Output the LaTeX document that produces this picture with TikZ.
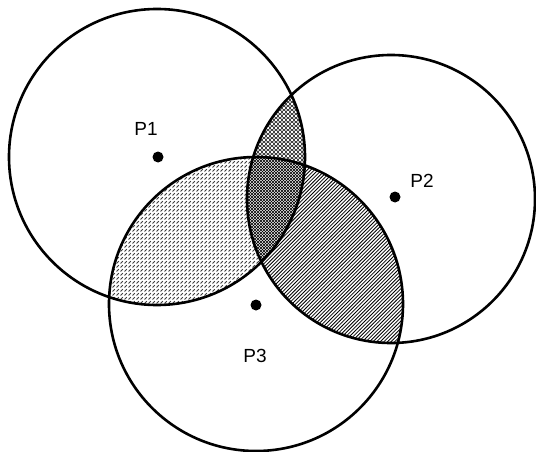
\documentclass[tikz,border=0pt]{standalone}
\usepackage{fontspec}
\setmainfont{Liberation Sans}
\usetikzlibrary{patterns}

\pgfdeclarepatternformonly{rings}{\pgfpoint{-1pt}{-1pt}}{\pgfpoint{5pt}{5pt}}{\pgfpoint{4pt}{4pt}}
{\pgfsetlinewidth{0.6pt}\pgfpathcircle{\pgfpoint{2pt}{2pt}}{1.7pt}\pgfusepathqstroke}
\pgfdeclarepatternformonly{dashlines}{\pgfpoint{-1pt}{-1pt}}{\pgfpoint{5pt}{5pt}}{\pgfpoint{4pt}{4pt}}
{\pgfsetlinewidth{0.8pt}\pgfpathmoveto{\pgfpoint{0.5pt}{0.5pt}}\pgfpathlineto{\pgfpoint{2.8pt}{2.8pt}}\pgfusepathqstroke}
\pgfdeclarepatternformonly{hatch}{\pgfpoint{-1pt}{-1pt}}{\pgfpoint{5pt}{5pt}}{\pgfpoint{3.6pt}{3.6pt}}
{\pgfsetlinewidth{0.8pt}\pgfpathmoveto{\pgfpoint{0pt}{0pt}}\pgfpathlineto{\pgfpoint{3.7pt}{3.7pt}}\pgfusepathqstroke}
\pgfdeclarepatternformonly{checks}{\pgfpoint{-1pt}{-1pt}}{\pgfpoint{4pt}{4pt}}{\pgfpoint{3pt}{3pt}}
{\pgfsetlinewidth{0.6pt}\pgfpathmoveto{\pgfpoint{0pt}{0pt}}\pgfpathlineto{\pgfpoint{3.1pt}{3.1pt}}
\pgfpathmoveto{\pgfpoint{0pt}{3pt}}\pgfpathlineto{\pgfpoint{3.1pt}{-0.1pt}}\pgfusepathqstroke}

\tikzset{
  dot/.style={circle,fill=black,inner sep=0pt,minimum size=11pt},
  plabel/.style={font=\fontsize{19}{19}\selectfont},
}

\def\circA{(157,157) circle (148)}
\def\circB{(391,199) circle (144)}
\def\circC{(256,304) circle (147)}

\begin{document}
\begin{tikzpicture}[x=1pt,y=-1pt]
\useasboundingbox (0,0) rectangle (536,452);
% overlaps
\begin{scope}\clip \circA; \fill[white] \circB; \fill[pattern=rings] \circB;\end{scope}
\begin{scope}\clip \circA; \fill[white] \circC; \fill[pattern=dashlines,pattern color=black!75] \circC;\end{scope}
\begin{scope}\clip \circB; \fill[white] \circC; \fill[pattern=hatch] \circC;\end{scope}
\begin{scope}\clip \circA; \clip \circB; \fill[white] \circC; \fill[pattern=checks] \circC;\end{scope}
% circles
\draw[line width=2.6pt] \circA \circB \circC;
% centres
\node[dot] (p1) at (158,157) {};
\node[dot] (p2) at (395,197) {};
\node[dot] (p3) at (256,305) {};
\node[plabel] (l1) at (146,129) {P1};
\node[plabel] (l2) at (422,181) {P2};
\node[plabel] (l3) at (255,356) {P3};
\end{tikzpicture}
\end{document}
